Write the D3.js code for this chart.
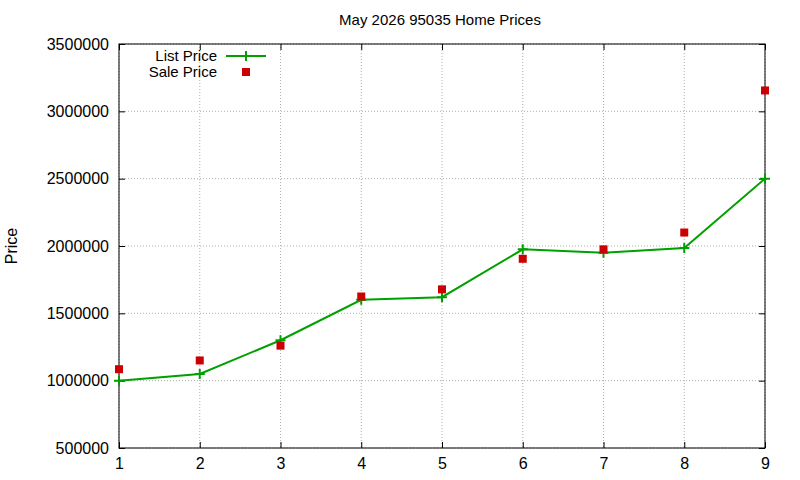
<!DOCTYPE html><html><head><script src="https://cdn.jsdelivr.net/npm/d3@7"></script>
<style>body{margin:0;background:#fff}text{font-family:"Liberation Sans",Arial,sans-serif}</style></head><body>
<svg id="c" width="800" height="480"></svg>
<script>
const months=[1,2,3,4,5,6,7,8,9];
const listPrice=[1000000,1050000,1300000,1600000,1620000,1975000,1950000,1985000,2500000];
const salePrice=[1085000,1150000,1260000,1625000,1678000,1905000,1975000,2100000,3155000];
const yTicks=[500000,1000000,1500000,2000000,2500000,3000000,3500000];
const svg=d3.select("#c");
const L=119,R=765,T=44,B=448;
const x=d3.scaleLinear().domain([1,9]).range([L,R]);
const y=d3.scaleLinear().domain([500000,3500000]).range([B,T]);
const g=svg.append("g");
yTicks.forEach(v=>g.append("line").attr("x1",L).attr("x2",R).attr("y1",y(v)).attr("y2",y(v)).attr("stroke","#999").attr("stroke-dasharray","1,2").attr("stroke-width",0.8));
months.forEach(v=>g.append("line").attr("x1",x(v)).attr("x2",x(v)).attr("y1",T).attr("y2",B).attr("stroke","#999").attr("stroke-dasharray","1,2").attr("stroke-width",0.8));
const ya=svg.append("g").attr("transform",`translate(${L},0)`).call(d3.axisLeft(y).tickValues(yTicks).tickFormat(d3.format("d")).tickSizeInner(-6).tickSizeOuter(0).tickPadding(10));
const yr=svg.append("g").attr("transform",`translate(${R},0)`).call(d3.axisRight(y).tickValues(yTicks).tickFormat("").tickSizeInner(-6).tickSizeOuter(0));
const xa=svg.append("g").attr("transform",`translate(0,${B})`).call(d3.axisBottom(x).tickValues(months).tickFormat(d3.format("d")).tickSizeInner(-6).tickSizeOuter(0).tickPadding(10));
const xt=svg.append("g").attr("transform",`translate(0,${T})`).call(d3.axisTop(x).tickValues(months).tickFormat("").tickSizeInner(-6).tickSizeOuter(0));
[ya,yr,xa,xt].forEach(a=>{a.select(".domain").remove();a.selectAll("text").attr("font-size",16).attr("fill","#000");a.selectAll("line").attr("stroke","#000");});
svg.append("rect").attr("x",L).attr("y",T).attr("width",R-L).attr("height",B-T).attr("fill","none").attr("stroke","#000");
svg.append("text").attr("x",440).attr("y",25).attr("text-anchor","middle").attr("font-size",15).text("May 2026 95035 Home Prices");
svg.append("text").attr("transform","translate(17,246) rotate(-90)").attr("text-anchor","middle").attr("font-size",16).text("Price");
const line=d3.line().x((d,i)=>x(months[i])).y(d=>y(d));
svg.append("path").datum(listPrice).attr("d",line).attr("fill","none").attr("stroke","#00a000").attr("stroke-width",2);
const plus=(sel,cx,cy)=>{sel.append("path").attr("d",`M${cx-5},${cy}H${cx+5}M${cx},${cy-5}V${cy+5}`).attr("stroke","#00a000").attr("stroke-width",2);};
listPrice.forEach((v,i)=>plus(svg,x(months[i]),y(v)));
salePrice.forEach((v,i)=>svg.append("rect").attr("x",x(months[i])-4).attr("y",y(v)-4).attr("width",8).attr("height",8).attr("fill","#cc0000"));
svg.append("text").attr("x",217).attr("y",61).attr("text-anchor","end").attr("font-size",15).text("List Price");
svg.append("line").attr("x1",226).attr("x2",266).attr("y1",56).attr("y2",56).attr("stroke","#00a000").attr("stroke-width",2);
plus(svg,246,56);
svg.append("text").attr("x",217).attr("y",77).attr("text-anchor","end").attr("font-size",15).text("Sale Price");
svg.append("rect").attr("x",242).attr("y",68).attr("width",8).attr("height",8).attr("fill","#cc0000");
</script></body></html>
